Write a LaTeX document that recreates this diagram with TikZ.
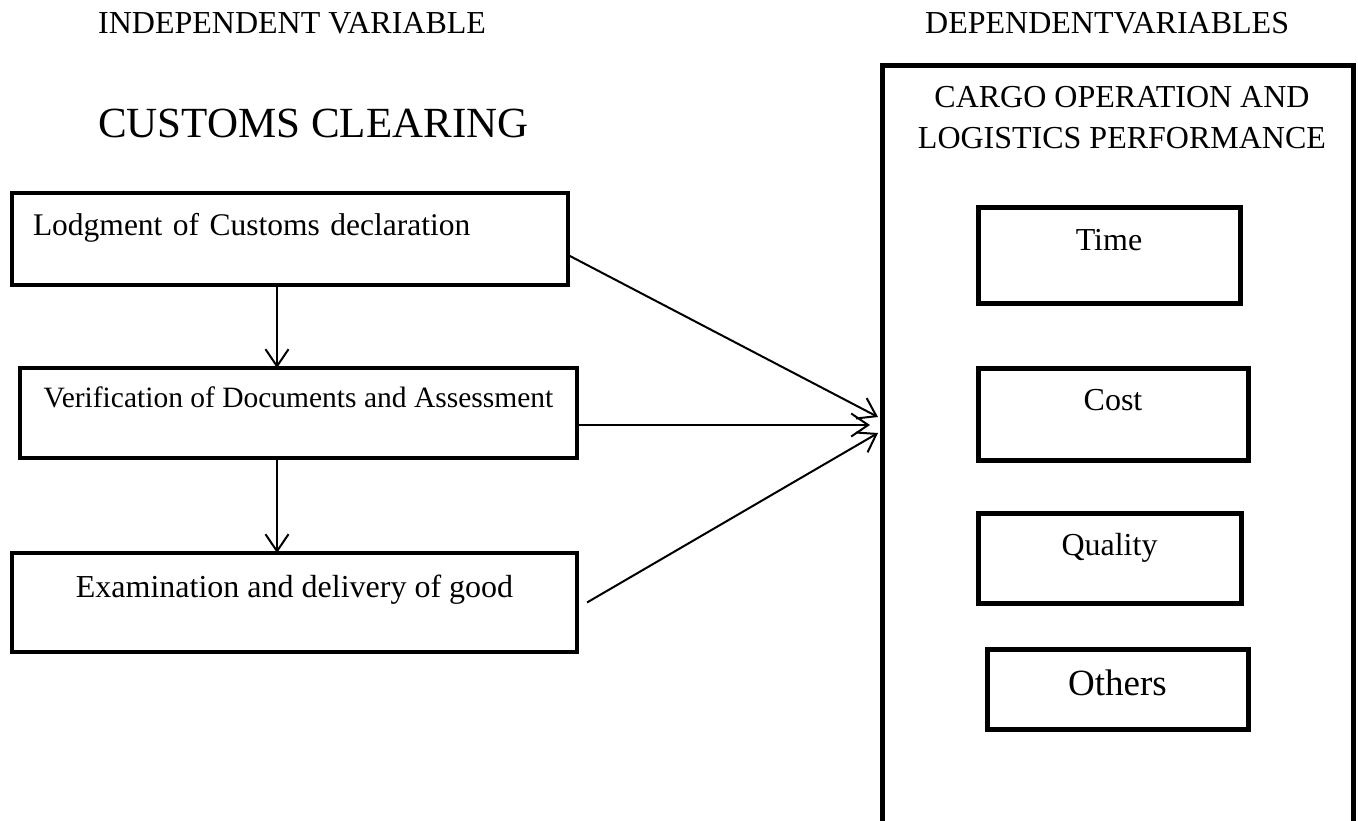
\documentclass[tikz,border=0pt]{standalone}
\usepackage{fontspec}
\setmainfont{Liberation Serif}
\usetikzlibrary{arrows.meta, positioning, calc}

\tikzset{
  stage/.style={draw, line width=4.5pt, inner ysep=0pt, outer sep=0pt,
    font=\fontsize{32}{38}\selectfont},
  measure/.style={draw, line width=5pt, inner ysep=0pt, outer sep=0pt,
    font=\fontsize{32}{38}\selectfont},
  heading/.style={inner sep=0pt, font=\fontsize{32}{41}\selectfont},
  flow/.style={-{Straight Barb[length=17pt, width=23pt]}, line width=2pt}
}

\begin{document}
\begin{tikzpicture}[x=1pt, y=-1pt]
  % page
  \clip (0,0) rectangle (1358,820);

  % Headings
  \node[heading, anchor=base west] (indep) at (98,33) {INDEPENDENT VARIABLE};
  \node[heading, anchor=base west] (dep) at (925,33) {DEPENDENTVARIABLES};
  \node[heading, anchor=base west, font=\fontsize{43}{50}\selectfont]
    (clearing) at (98,137) {CUSTOMS CLEARING};

  % Customs clearing stages
  \node[stage, text width=514pt, align=left, inner xsep=21pt,
        font=\fontsize{31.5}{38}\selectfont,
        text height=42pt, text depth=50pt] (lodge) at (290,239)
        {Lodgment of Customs declaration};
  \node[stage, minimum width=557pt, text height=39pt, text depth=51pt,
        font=\fontsize{29.5}{36}\selectfont]
        (verify) at (298.5,413) {Verification of Documents and Assessment};
  \node[stage, minimum width=565pt, text height=44pt, text depth=55pt]
        (exam) at (294.5,602.5) {Examination and delivery of good};

  % Dependent variables frame (open at the bottom of the page)
  \node[draw, line width=5pt, outer sep=0pt, anchor=north west,
        minimum width=471pt, minimum height=800pt] (dv) at (882,65) {};
  \node[heading, anchor=north, align=center] (cargo) at (1122,86.5)
        {CARGO OPERATION AND\\LOGISTICS PERFORMANCE};

  \node[measure, minimum width=262pt, text height=43pt, text depth=53pt]
        (time) at (1109,255) {Time};
  \node[measure, minimum width=270pt, text height=42pt, text depth=50pt]
        (cost) at (1113,414) {Cost};
  \node[measure, minimum width=263pt, text height=42pt, text depth=48pt]
        (quality) at (1109.5,558) {Quality};
  \node[measure, minimum width=261pt, text height=46pt, text depth=34pt,
        font=\fontsize{37}{44}\selectfont]
        (others) at (1117.5,689) {Others};

  % Arrows
  \coordinate (drop) at (277,0);
  \coordinate (tipA) at (878,417);
  \coordinate (tipB) at (870,425);
  \coordinate (tipC) at (878,433);

  \draw[flow] (lodge.south -| drop) -- (verify.north -| drop);
  \draw[flow] (verify.south -| drop) -- (exam.north -| drop);

  \draw[flow] ([yshift=-16pt]lodge.east) -- (tipA);
  \draw[flow] ([yshift=-12pt]verify.east) -- (tipB);
  \draw[flow] ([xshift=10pt]exam.east) -- (tipC);
\end{tikzpicture}
\end{document}
